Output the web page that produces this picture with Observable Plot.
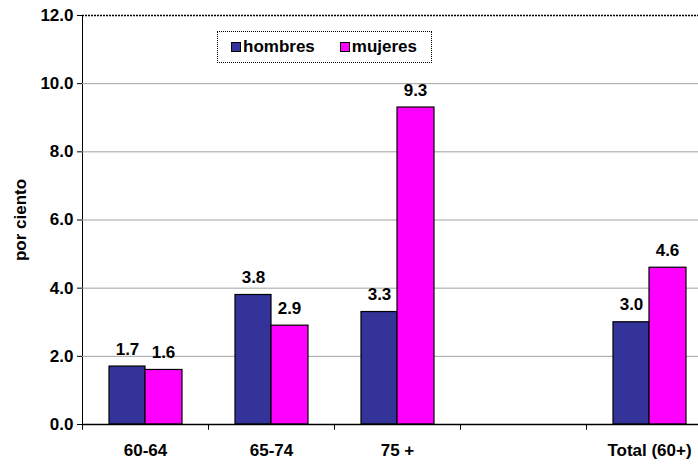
<!DOCTYPE html>
<html>
<head>
<meta charset="utf-8">
<script src="https://cdn.jsdelivr.net/npm/d3@7"></script>
<script src="https://cdn.jsdelivr.net/npm/@observablehq/plot@0.6"></script>
<style>
  html, body { margin: 0; padding: 0; background: #fff; }
  #wrap { position: relative; width: 698px; height: 465px; font-family: "Liberation Sans", Arial, sans-serif; }
  #legend { position: absolute; left: 217px; top: 31px; width: 213px; height: 30px; border: 1px dotted #000;
            font: bold 17px "Liberation Sans", Arial, sans-serif; display: flex; align-items: center; box-sizing: content-box; }
  #legend .item { display: flex; align-items: center; }
  #legend .sw { width: 8px; height: 8px; border: 1px solid #000; margin-right: 2px; }
</style>
</head>
<body>
<div id="wrap"></div>
<script>
const categories = ["60-64", "65-74", "75 +", "blank", "Total (60+)"];
const series = ["hombres", "mujeres"];
const hombres = [1.7, 3.8, 3.3, null, 3.0];
const mujeres = [1.6, 2.9, 9.3, null, 4.6];
const colors = ["#333399", "#FF00FF"];
const yTicks = [0, 2, 4, 6, 8, 10, 12];

const rowsH = categories.map((c, i) => ({cat: c, v: hombres[i]})).filter(d => d.v != null);
const rowsM = categories.map((c, i) => ({cat: c, v: mujeres[i]})).filter(d => d.v != null);

const font = '"Liberation Sans", Arial, sans-serif';

const chart = Plot.plot({
  width: 698,
  height: 465,
  marginLeft: 82,
  marginRight: 0,
  marginTop: 15,
  marginBottom: 41,
  style: {fontFamily: font, fontSize: "17px", fontWeight: "bold", color: "#000", background: "#fff", overflow: "visible"},
  x: {domain: categories, range: [82, 712], padding: 0, tickSize: 0, tickPadding: 19,
      tickFormat: d => d === "blank" ? "" : d, label: null},
  y: {domain: [0, 12], ticks: yTicks, tickFormat: d => d.toFixed(1), tickSize: 5, tickPadding: 4,
      label: "por ciento", labelAnchor: "center", labelOffset: 69, line: true},
  marks: [
    Plot.ruleY(yTicks.filter(t => t > 0 && t < 12), {stroke: "#a0a0a0", strokeWidth: 1}),
    Plot.ruleY([12], {stroke: "#000", strokeWidth: 1.5, strokeDasharray: "2,1"}),
    Plot.barY(rowsH, {x: "cat", y: "v", fill: colors[0], stroke: "#000", strokeWidth: 1.2, insetLeft: 27, insetRight: 63}),
    Plot.barY(rowsM, {x: "cat", y: "v", fill: colors[1], stroke: "#000", strokeWidth: 1.2, insetLeft: 63, insetRight: 26}),
    Plot.text(rowsH, {x: "cat", y: "v", text: d => d.v.toFixed(1), dx: -18, dy: -12, lineAnchor: "bottom", fontSize: 17, fontWeight: "bold"}),
    Plot.text(rowsM, {x: "cat", y: "v", text: d => d.v.toFixed(1), dx: 18, dy: -12, lineAnchor: "bottom", fontSize: 17, fontWeight: "bold"}),
    Plot.ruleX(categories, {x: d => d, dx: -63, y1: 0, y2: -0.17, stroke: "#000", strokeWidth: 1}),
    Plot.ruleY([0], {stroke: "#000", strokeWidth: 1.5})
  ]
});
const wrap = document.getElementById("wrap");
wrap.appendChild(chart);

// remove the automatic arrow from the y label, thicken the left axis line
chart.querySelectorAll("text").forEach(t => {
  if (/por ciento/.test(t.textContent)) t.textContent = "por ciento";
});
chart.querySelectorAll("g[aria-label='y-axis'] path").forEach(p => p.setAttribute("stroke-width", 2));

const legend = document.createElement("div");
legend.id = "legend";
series.forEach((s, i) => {
  const item = document.createElement("span");
  item.className = "item";
  item.style.marginLeft = i === 0 ? "13px" : "25px";
  const sw = document.createElement("span");
  sw.className = "sw";
  sw.style.background = colors[i];
  item.appendChild(sw);
  item.appendChild(document.createTextNode(s));
  legend.appendChild(item);
});
wrap.appendChild(legend);
</script>
</body>
</html>
